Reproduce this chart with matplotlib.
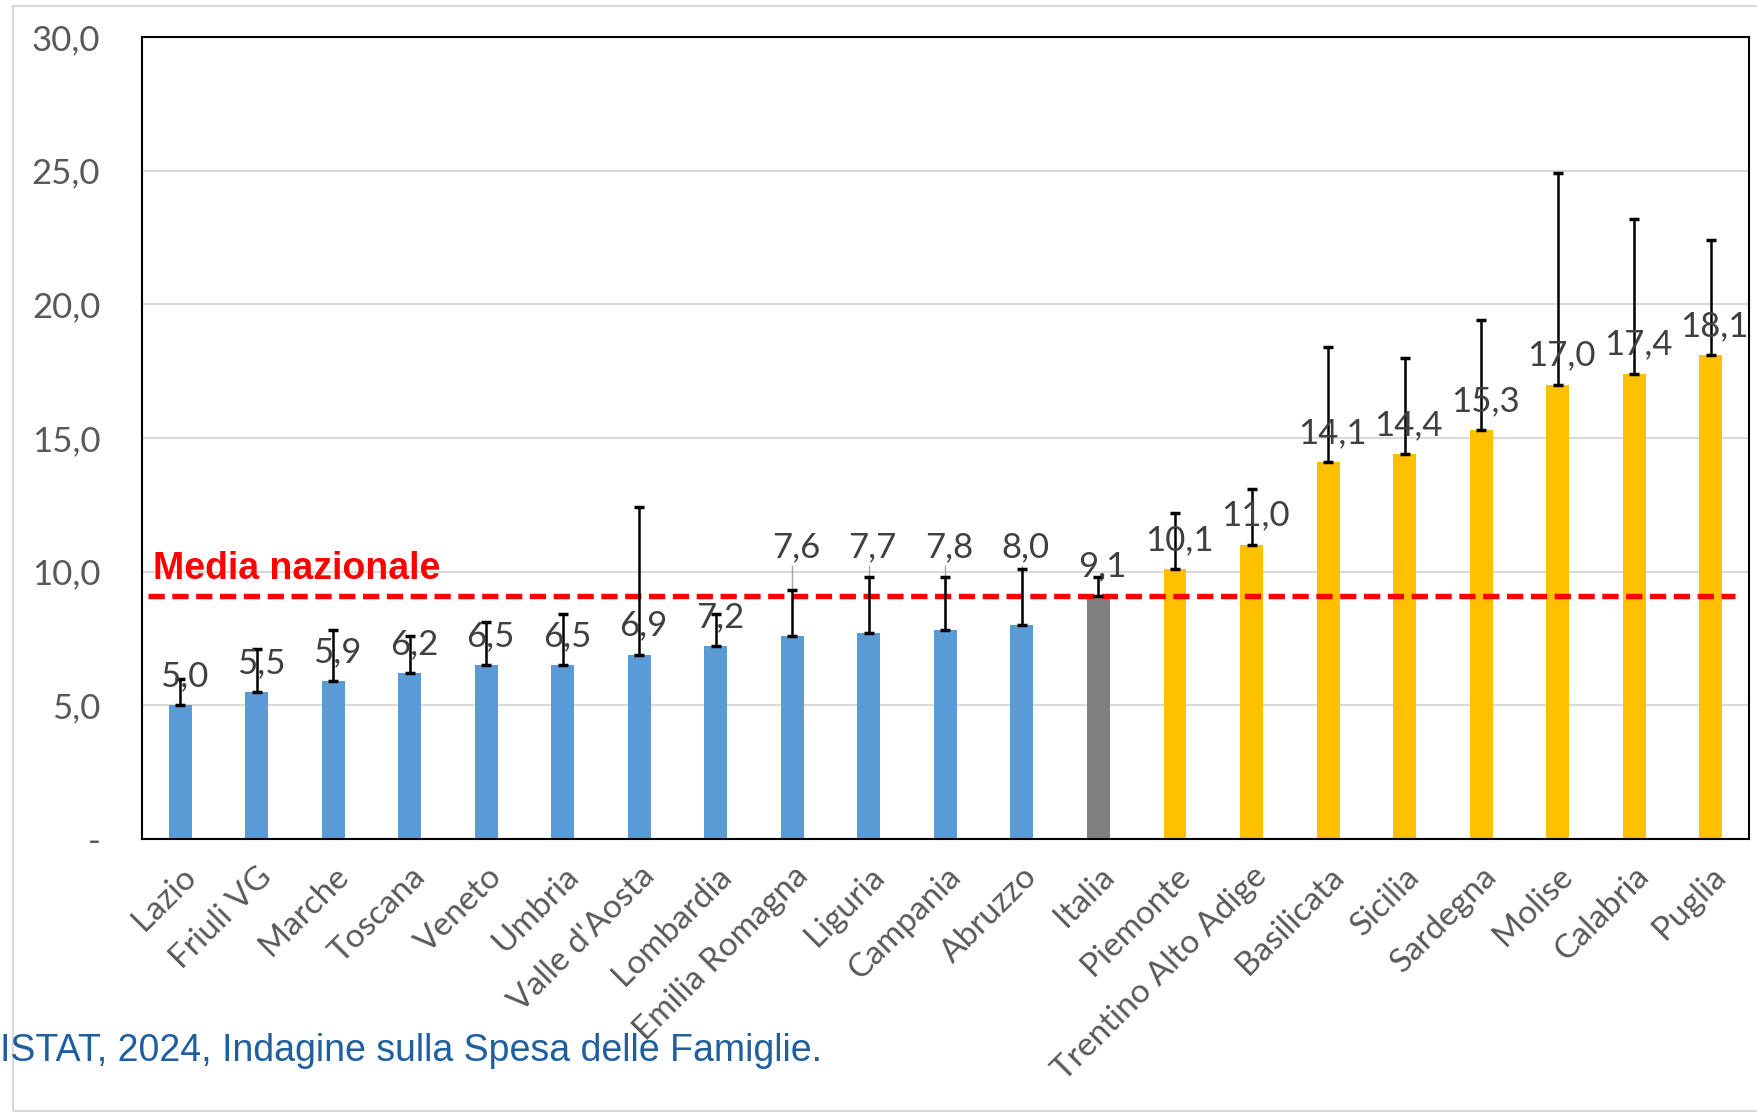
import matplotlib
matplotlib.use("Agg")
import matplotlib.pyplot as plt
from matplotlib.patches import Rectangle

# regions ordered by value, Italia = national average
regions = ["Lazio", "Friuli VG", "Marche", "Toscana", "Veneto", "Umbria",
           "Valle d'Aosta", "Lombardia", "Emilia Romagna", "Liguria", "Campania",
           "Abruzzo", "Italia", "Piemonte", "Trentino Alto Adige", "Basilicata",
           "Sicilia", "Sardegna", "Molise", "Calabria", "Puglia"]
values = [5.0, 5.5, 5.9, 6.2, 6.5, 6.5, 6.9, 7.2, 7.6, 7.7, 7.8, 8.0,
          9.1, 10.1, 11.0, 14.1, 14.4, 15.3, 17.0, 17.4, 18.1]
upper = [6.0, 7.1, 7.8, 7.6, 8.1, 8.4, 12.4, 8.4, 9.3, 9.8, 9.8, 10.1,
         9.8, 12.2, 13.1, 18.4, 18.0, 19.4, 24.9, 23.2, 22.4]
groups = ["low"] * 12 + ["avg"] + ["high"] * 8
media_nazionale = 9.1
yticks = [0, 5, 10, 15, 20, 25, 30]
ytick_labels = ["-", "5,0", "10,0", "15,0", "20,0", "25,0", "30,0"]
source = "ISTAT, 2024, Indagine sulla Spesa delle Famiglie."

# labels that Excel had moved up (with leader lines)
raised = ["Emilia Romagna", "Liguria", "Campania", "Abruzzo"]
raised_y = 10.9

colors = {"low": "#5B9BD5", "avg": "#7F7F7F", "high": "#FFC000"}
font = "Lato"

fig = plt.figure(figsize=(17.57, 11.14), dpi=100)
ax = fig.add_axes([0.0808, 0.2469, 0.9146, 0.7199])

x = list(range(len(regions)))
ax.bar(x, values, width=0.3, color=[colors[g] for g in groups], zorder=2)

yerr_up = [u - v for u, v in zip(upper, values)]
ax.errorbar(x, values, yerr=[[0] * len(values), yerr_up], fmt="none",
            ecolor="black", elinewidth=1.8, capsize=3.5, capthick=2.5, zorder=4)

ax.hlines(media_nazionale, -0.42, 20.32, colors="#FF0000", linewidth=3.9,
          linestyles=(0, (3, 1.4)), zorder=3)
ax.text(-0.36, 9.72, "Media nazionale", color="#FF0000", fontsize=27,
        fontweight="bold", family="Liberation Sans", va="baseline", ha="left")

for i, (name, v) in enumerate(zip(regions, values)):
    lbl = f"{v:.1f}".replace(".", ",")
    if name in raised:
        ax.plot([i, i], [v, raised_y - 0.7], color="#A6A6A6", lw=1, zorder=3)
        ax.text(i + 0.05, raised_y, lbl, ha="center", va="center",
                fontsize=25, color="#404040", family=font, zorder=5)
    else:
        ax.annotate(lbl, (i, v), xytext=(3, 21), textcoords="offset points",
                    ha="center", va="center", fontsize=25, color="#404040",
                    family=font, zorder=5)

ax.set_xlim(-0.5, 20.5)
ax.set_ylim(0, 30)
ax.set_yticks(yticks)
ax.set_yticklabels(ytick_labels, fontsize=25, color="#595959", family=font)
ax.set_xticks(x)
ax.set_xticklabels(regions, rotation=45, ha="right", rotation_mode="anchor",
                   fontsize=24, color="#595959", family=font)
ax.tick_params(axis="y", length=0, pad=30)
ax.tick_params(axis="x", length=0, pad=16)
ax.yaxis.grid(True, color="#D9D9D9", linewidth=1.5, zorder=0)
ax.set_axisbelow(True)
for s in ax.spines.values():
    s.set_color("black")
    s.set_linewidth(1.5)

# outer chart border
fig.patches.append(Rectangle((13 / 1757, 3 / 1114), 1.0, 1 - 9 / 1114,
                             transform=fig.transFigure, fill=False,
                             edgecolor="#D9D9D9", linewidth=1.5))

fig.text(0.0, 1 - 1051 / 1114, source, color="#1F5FA0", fontsize=27,
         family="Liberation Sans", va="center", ha="left")

fig.savefig("out.png", dpi=100)
